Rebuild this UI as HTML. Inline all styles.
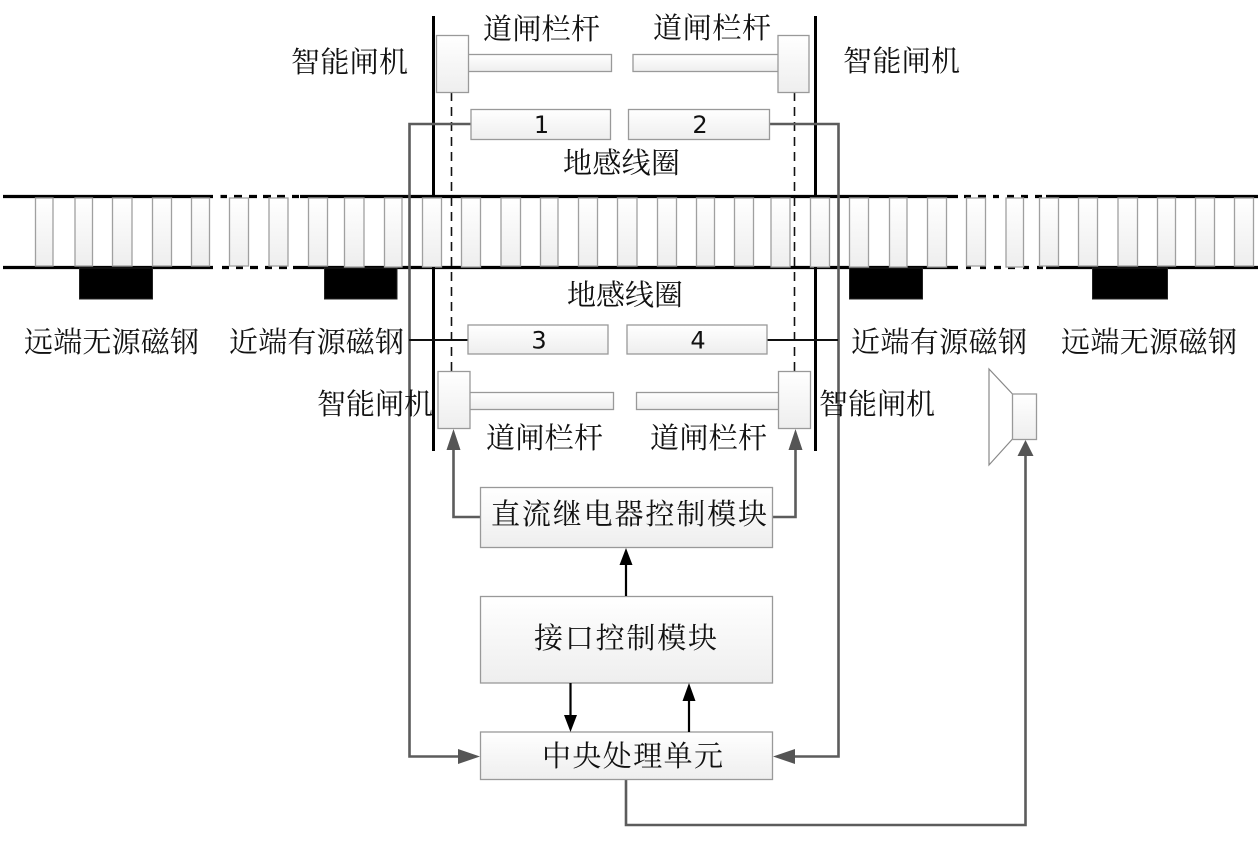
<!DOCTYPE html>
<html><head><meta charset="utf-8"><style>
html,body{margin:0;padding:0;background:#fff;width:1260px;height:845px;overflow:hidden}
svg{display:block}
text{font-family:"Liberation Serif","Noto Serif CJK SC",serif;font-size:29px;font-weight:400;fill:#111}
.n{font-family:"DejaVu Sans",sans-serif;font-size:24px;font-weight:400;text-anchor:middle;fill:#111}
.b{fill:url(#g);stroke:#999;stroke-width:1.3}
.t{fill:url(#g);stroke:#a0a0a0;stroke-width:1.3}
.k{stroke:#000;stroke-width:3;fill:none}
.s{stroke:#5c5c5c;stroke-width:2.6;fill:none}
.a{stroke:#000;stroke-width:2.2;fill:none}
</style></head><body>
<svg width="1260" height="845" viewBox="0 0 1260 845" xmlns="http://www.w3.org/2000/svg">
<defs><linearGradient id="g" x1="0" y1="0" x2="0" y2="1"><stop offset="0" stop-color="#fff"/><stop offset="1" stop-color="#eee"/></linearGradient></defs>

<!-- rails -->
<g class="k" style="stroke-width:3.2">
<path d="M3 196.5H213M300 196.5H958M1046 196.5H1258M3 267.5H213M293 267.5H958M1046 267.5H1258"/>
<path d="M220.5 196.5H227M234 196.5H242M249 196.5H257M263 196.5H271M277 196.5H285M292 196.5H299"/>
<path d="M222 267.5H229M236 267.5H243M250 267.5H258M265 267.5H272M279 267.5H287"/>
<path d="M964 196.5H971M978 196.5H986M993 196.5H999M1007 196.5H1014M1021 196.5H1028M1035 196.5H1042"/>
<path d="M966 267.5H971M980 267.5H986M994 267.5H1001M1008 267.5H1015M1023 267.5H1029M1037 267.5H1043"/>
</g>

<!-- black magnets -->
<g fill="#000" stroke="#222" stroke-width="1">
<rect x="79.5" y="268" width="73" height="31"/>
<rect x="324.5" y="268" width="72.5" height="31"/>
<rect x="849.5" y="268" width="73" height="31"/>
<rect x="1092.5" y="268" width="75" height="31"/>
</g>

<!-- ties -->
<g class="t">
<rect x="35.5" y="198" width="17.5" height="68"/>
<rect x="75" y="198" width="17.5" height="68"/>
<rect x="112.5" y="198" width="19.5" height="68"/>
<rect x="152.5" y="198" width="19" height="68"/>
<rect x="191.5" y="198" width="18" height="68"/>
<rect x="229.5" y="198" width="19" height="68"/>
<rect x="269" y="198" width="19" height="68"/>
<rect x="308.5" y="198" width="19" height="68"/>
<rect x="344.5" y="198" width="19.5" height="69"/>
<rect x="384.5" y="198" width="17.5" height="69"/>
<rect x="422.5" y="198" width="19" height="69"/>
<rect x="461.5" y="198" width="19" height="69"/>
<rect x="501" y="198" width="19.5" height="68"/>
<rect x="540.5" y="198" width="17.5" height="68"/>
<rect x="578.5" y="198" width="19" height="68"/>
<rect x="617.5" y="198" width="19.5" height="68"/>
<rect x="657.5" y="198" width="19" height="68"/>
<rect x="696.5" y="198" width="18" height="68"/>
<rect x="734.5" y="198" width="19" height="68"/>
<rect x="771" y="198" width="19" height="69"/>
<rect x="810.5" y="198" width="19" height="69"/>
<rect x="849.5" y="198" width="19" height="69"/>
<rect x="889.5" y="198" width="17.5" height="69"/>
<rect x="927.5" y="198" width="19" height="69"/>
<rect x="966.5" y="198" width="19" height="68"/>
<rect x="1006" y="198" width="17.5" height="69"/>
<rect x="1039.5" y="198" width="19" height="68"/>
<rect x="1078.5" y="198" width="19" height="68"/>
<rect x="1118" y="198" width="19.5" height="68"/>
<rect x="1157.5" y="198" width="18" height="68"/>
<rect x="1195.5" y="198" width="19" height="68"/>
<rect x="1234.5" y="198" width="19" height="68"/>
</g>

<!-- vertical black lines -->
<path class="k" d="M433.5 16V196M815.5 16V196M433.5 267V451M815.5 267V451"/>

<!-- dashed -->
<path d="M451.5 92V372M794.5 92V372" stroke="#111" stroke-width="1.6" stroke-dasharray="9 6" fill="none"/>

<!-- gray wires -->
<path class="s" d="M471 124H409.5V756.5H460"/>
<path class="s" d="M769 124H838.5V756.5H792"/>
<path class="s" d="M480 517H453.5V448"/>
<path class="s" d="M773 517H795.5V448"/>
<path class="s" d="M626 779V825H1025.5V456"/>
<path d="M409 340H468M767 340H838" stroke="#111" stroke-width="2" fill="none"/>

<!-- upper gates -->
<rect class="b" x="468" y="54.5" width="143.5" height="17"/>
<rect class="b" x="633" y="54.5" width="145.5" height="17"/>
<rect class="b" x="436.5" y="35.5" width="32" height="57"/>
<rect class="b" x="778" y="35.5" width="31" height="57"/>
<!-- coils -->
<rect class="b" x="471" y="109.5" width="139.5" height="30"/>
<rect class="b" x="628.5" y="109.5" width="141" height="30"/>
<rect class="b" x="468" y="325" width="140" height="29"/>
<rect class="b" x="627" y="325" width="140" height="29"/>
<!-- lower gates -->
<rect class="b" x="469.5" y="392.5" width="144" height="17"/>
<rect class="b" x="636.5" y="392.5" width="142.5" height="17"/>
<rect class="b" x="438" y="371.5" width="32" height="57"/>
<rect class="b" x="778.5" y="371.5" width="32" height="57"/>

<!-- speaker -->
<path d="M1012.5 394L989 369V465L1012.5 439" fill="#fff" stroke="#888" stroke-width="1.2"/>
<rect class="b" x="1012.5" y="394" width="24" height="45.5"/>

<!-- module boxes -->
<rect class="b" x="480.5" y="487.5" width="292" height="60"/>
<rect class="b" x="480.5" y="596.5" width="292" height="86.5"/>
<rect class="b" x="480.5" y="732" width="292" height="47.5"/>

<!-- black arrows -->
<path class="a" d="M626 596V562M570.5 683V718M689 732V698"/>
<path d="M626 548L619.5 565H632.5Z M570.5 732L564 715H577Z M689 683L682.5 701H695.5Z" fill="#000"/>
<!-- gray arrowheads -->
<path d="M453.5 429L446.5 450H460.5Z M795.5 429L788.5 450H802.5Z M1025.5 440L1017.5 456H1033.5Z M480 756.5L458 749V764Z M773 756.5L795 749V764Z" fill="#555"/>

<!-- labels -->
<text x="483" y="39" textLength="117">道闸栏杆</text>
<text x="653" y="38" textLength="118">道闸栏杆</text>
<text x="291" y="72" textLength="117">智能闸机</text>
<text x="843" y="71" textLength="117">智能闸机</text>
<text x="563" y="173" textLength="117">地感线圈</text>
<text x="567" y="305" textLength="116">地感线圈</text>
<text x="24" y="352" textLength="175">远端无源磁钢</text>
<text x="229" y="352" textLength="175">近端有源磁钢</text>
<text x="851" y="352" textLength="176">近端有源磁钢</text>
<text x="1061" y="352" textLength="176">远端无源磁钢</text>
<text x="317" y="414" textLength="116">智能闸机</text>
<text x="819" y="414" textLength="116">智能闸机</text>
<text x="486" y="448" textLength="117">道闸栏杆</text>
<text x="650" y="448" textLength="117">道闸栏杆</text>
<text x="491" y="524" textLength="276">直流继电器控制模块</text>
<text x="534" y="648" textLength="183">接口控制模块</text>
<text x="542" y="766" textLength="181">中央处理单元</text>
<text class="n" x="541.5" y="133">1</text>
<text class="n" x="700" y="133">2</text>
<text class="n" x="539" y="348.5">3</text>
<text class="n" x="698" y="348.5">4</text>
</svg>
</body></html>
